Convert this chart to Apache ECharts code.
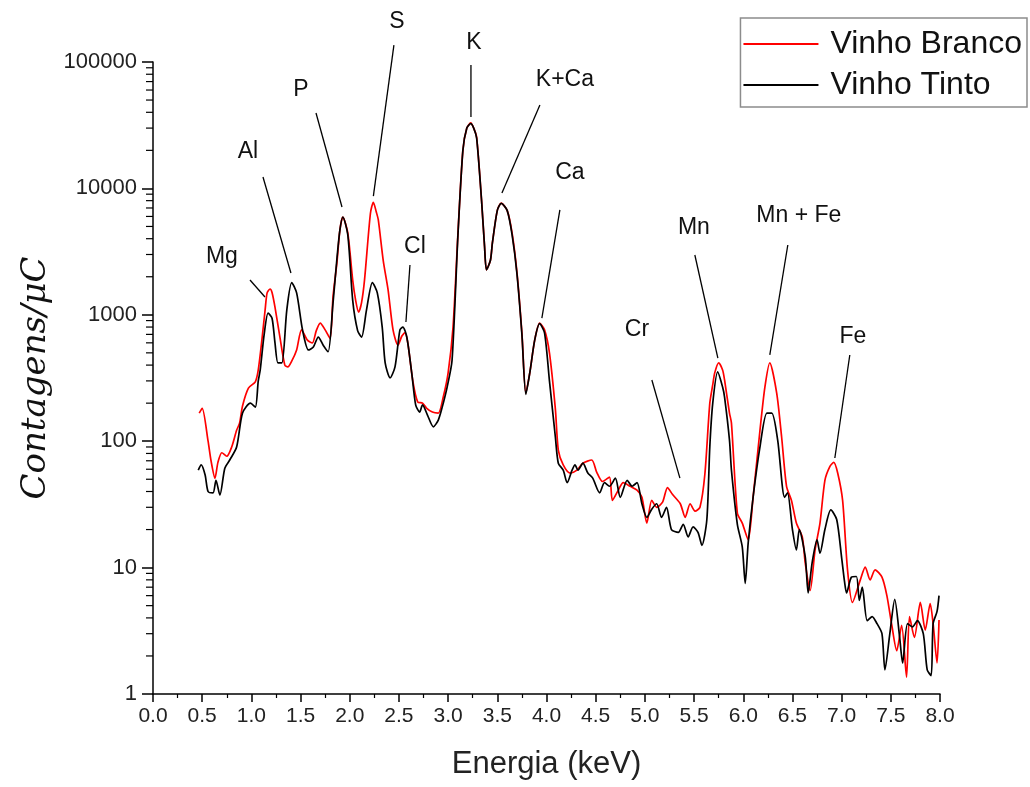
<!DOCTYPE html>
<html>
<head>
<meta charset="utf-8">
<title>Vinho Branco x Vinho Tinto</title>
<script src="https://cdn.jsdelivr.net/npm/echarts@6/dist/echarts.min.js"></script>
<style>
  html, body { margin: 0; padding: 0; background: #fff; }
  #main { width: 1030px; height: 787px; }
</style>
</head>
<body>
<div id="main"></div>
<script>
// espectro do vinho branco (energia em keV, contagens/uC)
var brancoEnergy = [0.47, 0.50, 0.56, 0.59, 0.63, 0.66, 0.70, 0.75, 0.80, 0.85, 0.88, 0.91, 0.97, 1.04, 1.07, 1.11, 1.14, 1.16, 1.19, 1.21,
  1.24, 1.29, 1.34, 1.37, 1.41, 1.46, 1.51, 1.57, 1.62, 1.66, 1.70, 1.75, 1.80, 1.83, 1.87, 1.90, 1.93, 1.98, 2.03, 2.06,
  2.09, 2.12, 2.15, 2.21, 2.24, 2.27, 2.29, 2.34, 2.39, 2.44, 2.49, 2.53, 2.56, 2.59, 2.64, 2.69, 2.74, 2.78, 2.84, 2.90,
  2.95, 3.00, 3.05, 3.10, 3.15, 3.19, 3.23, 3.26, 3.29, 3.34, 3.37, 3.39, 3.43, 3.45, 3.50, 3.54, 3.60, 3.65, 3.70, 3.75,
  3.79, 3.83, 3.88, 3.93, 3.98, 4.03, 4.09, 4.12, 4.17, 4.24, 4.31, 4.37, 4.46, 4.51, 4.57, 4.64, 4.67, 4.73, 4.78, 4.85,
  4.92, 4.97, 5.02, 5.07, 5.12, 5.18, 5.23, 5.28, 5.36, 5.41, 5.46, 5.51, 5.56, 5.61, 5.66, 5.69, 5.71, 5.75, 5.79, 5.81,
  5.86, 5.88, 5.94, 5.99, 6.05, 6.10, 6.17, 6.22, 6.27, 6.34, 6.39, 6.44, 6.49, 6.54, 6.60, 6.63, 6.68, 6.73, 6.78, 6.83,
  6.88, 6.92, 6.96, 7.01, 7.06, 7.11, 7.19, 7.24, 7.29, 7.34, 7.41, 7.46, 7.51, 7.56, 7.61, 7.66, 7.69, 7.74, 7.80, 7.85,
  7.90, 7.93, 7.97, 7.99];
var brancoCounts = [167, 182, 100, 70, 51, 68, 81, 76, 90, 122, 139, 190, 263, 295, 366, 667, 1100, 1490, 1600, 1500,
  1150, 667, 400, 387, 430, 527, 760, 630, 600, 750, 860, 760, 650, 1390, 2600, 4700, 5940, 4440, 1880, 1300,
  1050, 1250, 1880, 6330, 7770, 6500, 5650, 2700, 1570, 760, 575, 680, 720, 600, 303, 205, 200, 183, 170, 167,
  223, 347, 800, 4440, 20000, 30000, 33000, 30000, 25400, 8000, 3500, 2270, 2700, 3700, 6700, 7660, 6700, 4440, 2150, 720,
  240, 347, 630, 860, 760, 500, 180, 85, 65, 56, 59, 67, 71, 57, 48, 52, 34, 41, 47, 44,
  41, 36, 22.5, 34, 30, 33, 43, 38, 32, 25, 32, 28, 30, 55, 200, 280, 347, 417, 366, 305,
  167, 139, 27, 22.5, 16.6, 36, 122, 268, 417, 240, 108, 44, 34, 22.5, 17.5, 10.9, 6.6, 13.8, 22.5, 49,
  63, 68, 56, 34, 9.6, 5.3, 8, 10.1, 8, 9.6, 8.4, 6, 3.5, 2.2, 3.5, 1.36, 4.1, 2.8, 5.3, 3.2,
  5.2, 3.6, 1.76, 3.85];

// espectro do vinho tinto
var tintoEnergy = [0.46, 0.49, 0.53, 0.56, 0.61, 0.64, 0.68, 0.73, 0.78, 0.85, 0.91, 0.99, 1.04, 1.07, 1.09, 1.13, 1.17, 1.21, 1.24, 1.27,
  1.31, 1.36, 1.41, 1.46, 1.52, 1.58, 1.63, 1.68, 1.73, 1.78, 1.83, 1.87, 1.90, 1.93, 1.98, 2.03, 2.08, 2.12, 2.17, 2.23,
  2.28, 2.33, 2.36, 2.41, 2.46, 2.51, 2.54, 2.58, 2.63, 2.67, 2.71, 2.74, 2.79, 2.85, 2.90, 2.94, 2.99, 3.04, 3.10, 3.15,
  3.19, 3.23, 3.26, 3.29, 3.34, 3.37, 3.39, 3.43, 3.45, 3.50, 3.54, 3.60, 3.65, 3.70, 3.75, 3.79, 3.83, 3.88, 3.93, 3.98,
  4.03, 4.09, 4.12, 4.17, 4.21, 4.26, 4.29, 4.32, 4.37, 4.42, 4.47, 4.54, 4.59, 4.64, 4.70, 4.75, 4.82, 4.87, 4.92, 4.97,
  5.02, 5.07, 5.12, 5.17, 5.22, 5.27, 5.34, 5.39, 5.44, 5.49, 5.54, 5.58, 5.63, 5.66, 5.69, 5.74, 5.79, 5.81, 5.86, 5.88,
  5.94, 5.99, 6.02, 6.05, 6.10, 6.17, 6.24, 6.29, 6.35, 6.42, 6.45, 6.50, 6.54, 6.57, 6.63, 6.66, 6.70, 6.75, 6.78, 6.83,
  6.89, 6.95, 7.00, 7.03, 7.05, 7.10, 7.15, 7.18, 7.21, 7.26, 7.31, 7.36, 7.41, 7.44, 7.49, 7.54, 7.59, 7.62, 7.67, 7.72,
  7.77, 7.83, 7.87, 7.91, 7.93, 7.97, 7.99];
var tintoCounts = [59, 65, 54, 40, 39, 49, 37.5, 61, 71, 90, 167, 200, 186, 300, 366, 700, 1030, 940, 600, 417,
  417, 1090, 1800, 1490, 760, 527, 556, 667, 575, 510, 1240, 2800, 4700, 5940, 4300, 1300, 750, 667, 1090, 1800,
  1490, 800, 417, 317, 387, 760, 800, 667, 347, 194, 170, 194, 161, 130, 147, 186, 268, 437, 4300, 20000,
  30000, 32500, 30000, 25000, 8000, 3500, 2270, 2700, 3700, 6700, 7600, 6700, 4300, 2100, 700, 235, 347, 630, 850, 720,
  300, 108, 67, 59, 47, 59, 65, 59, 67, 56, 51, 39, 47, 44, 51, 36, 49, 44, 47, 32,
  25, 29, 32, 25, 30, 20, 19, 22, 17.5, 21, 19, 15, 24, 90, 200, 353, 268, 223, 102, 59,
  22, 14.6, 7.5, 15.6, 36, 90, 167, 167, 102, 36, 39, 20, 13.8, 20, 12.2, 6.3, 10.9, 16.6, 13, 20,
  28.6, 24, 12, 7.7, 6.3, 8.4, 8.5, 5.5, 7, 3.8, 4.1, 3.6, 3, 1.55, 3, 5.6, 2.8, 1.76, 3.6, 3.4,
  3.8, 3, 1.55, 1.4, 3.6, 4.5, 6];

// identificacao dos picos: texto e linha de chamada (em keV / contagens)
var annotations = [
  { text: 'Mg', at: [0.70, 2866], from: [0.986, 1884], to: [1.138, 1384] },
  { text: 'Al', at: [0.965, 19400], from: [1.118, 12300], to: [1.402, 2140] },
  { text: 'P', at: [1.504, 60000], from: [1.657, 39500], to: [1.921, 7130] },
  { text: 'S', at: [2.48, 207000], from: [2.449, 136000], to: [2.24, 8700] },
  { text: 'Cl', at: [2.663, 3440], from: [2.612, 2477], to: [2.571, 877] },
  { text: 'K', at: [3.262, 141000], from: [3.232, 94700], to: [3.232, 36700] },
  { text: 'K+Ca', at: [4.187, 72100], from: [3.933, 45700], to: [3.547, 9200] },
  { text: 'Ca', at: [4.238, 13240], from: [4.136, 6750], to: [3.953, 943] },
  { text: 'Cr', at: [4.919, 758], from: [5.071, 305], to: [5.356, 51] },
  { text: 'Mn', at: [5.498, 4860], from: [5.508, 2972], to: [5.742, 455] },
  { text: 'Mn + Fe', at: [6.565, 6050], from: [6.453, 3566], to: [6.27, 481] },
  { text: 'Fe', at: [7.114, 667], from: [7.083, 481], to: [6.931, 73.6] }
];

function pairs(xs, ys) {
  return xs.map(function (x, i) { return [x, ys[i]]; });
}

var myChart = echarts.init(document.getElementById('main'));

var option = {
  animation: false,
  backgroundColor: '#fff',
  grid: { left: 153, right: 90, top: 62, bottom: 93 },
  legend: {
    orient: 'vertical',
    right: 3,
    top: 18,
    padding: [8, 5, 4, 3],
    itemGap: 5,
    itemWidth: 75,
    itemHeight: 2,
    icon: 'rect',
    borderColor: '#8c8c8c',
    borderWidth: 1.5,
    textStyle: { fontFamily: 'Liberation Sans', fontSize: 32, color: '#111', lineHeight: 36, padding: [0, 0, 0, 7] },
    data: ['Vinho Branco', 'Vinho Tinto']
  },
  xAxis: {
    type: 'value',
    min: 0,
    max: 8,
    interval: 0.5,
    name: 'Energia (keV)',
    nameLocation: 'middle',
    nameGap: 55,
    nameTextStyle: { fontFamily: 'Liberation Sans', fontSize: 31, color: '#222' },
    axisLine: { lineStyle: { color: '#000', width: 1.5 } },
    axisTick: { length: 8, lineStyle: { color: '#000', width: 1.5 } },
    minorTick: { show: true, splitNumber: 2, length: 4, lineStyle: { color: '#000', width: 1.2 } },
    splitLine: { show: false },
    axisLabel: {
      margin: 12,
      fontFamily: 'Liberation Sans Narrow, Liberation Sans',
      fontSize: 21,
      color: '#222',
      formatter: function (v) { return v.toFixed(1); }
    }
  },
  yAxis: {
    type: 'log',
    logBase: 10,
    min: 1,
    max: 100000,
    name: 'Contagens/μC',
    nameLocation: 'middle',
    nameGap: 98,
    nameTextStyle: { fontFamily: 'DejaVu Serif', fontStyle: 'italic', fontSize: 34, color: '#111' },
    axisLine: { show: true, lineStyle: { color: '#000', width: 1.5 } },
    axisTick: { show: true, length: 11, lineStyle: { color: '#000', width: 1.5 } },
    splitLine: { show: false },
    axisLabel: {
      margin: 16,
      fontFamily: 'Liberation Sans',
      fontSize: 22,
      color: '#222',
      formatter: function (v) { return String(Math.round(v)); }
    }
  },
  series: [
    {
      name: 'Vinho Branco',
      type: 'line',
      data: pairs(brancoEnergy, brancoCounts),
      showSymbol: false,
      symbol: 'none',
      smooth: 0.25,
      clip: true,
      lineStyle: { color: '#ff0000', width: 1.7 },
      itemStyle: { color: '#ff0000' }
    },
    {
      name: 'Vinho Tinto',
      type: 'line',
      data: pairs(tintoEnergy, tintoCounts),
      showSymbol: false,
      symbol: 'none',
      smooth: 0.25,
      clip: true,
      lineStyle: { color: '#000', width: 1.7 },
      itemStyle: { color: '#000' }
    }
  ]
};

myChart.setOption(option);

// minor ticks of the log axis (2..9 in every decade) and peak labels
var toPx = function (p) { return myChart.convertToPixel({ xAxisIndex: 0, yAxisIndex: 0 }, p); };
var elements = [];
for (var d = 1; d < 100000; d *= 10) {
  for (var k = 2; k <= 9; k++) {
    var p = toPx([0, d * k]);
    elements.push({
      type: 'line',
      shape: { x1: p[0] - 7, y1: p[1], x2: p[0], y2: p[1] },
      style: { stroke: '#000', lineWidth: 1.2 }
    });
  }
}
annotations.forEach(function (a) {
  var t = toPx(a.at), f = toPx(a.from), e = toPx(a.to);
  elements.push({
    type: 'line',
    shape: { x1: f[0], y1: f[1], x2: e[0], y2: e[1] },
    style: { stroke: '#000', lineWidth: 1.3 }
  });
  elements.push({
    type: 'text',
    x: t[0],
    y: t[1],
    style: {
      text: a.text,
      fontFamily: 'Liberation Sans',
      fontSize: 23,
      fill: '#111',
      align: 'center',
      verticalAlign: 'middle'
    }
  });
});
myChart.setOption({ graphic: { elements: elements } });
</script>
</body>
</html>
